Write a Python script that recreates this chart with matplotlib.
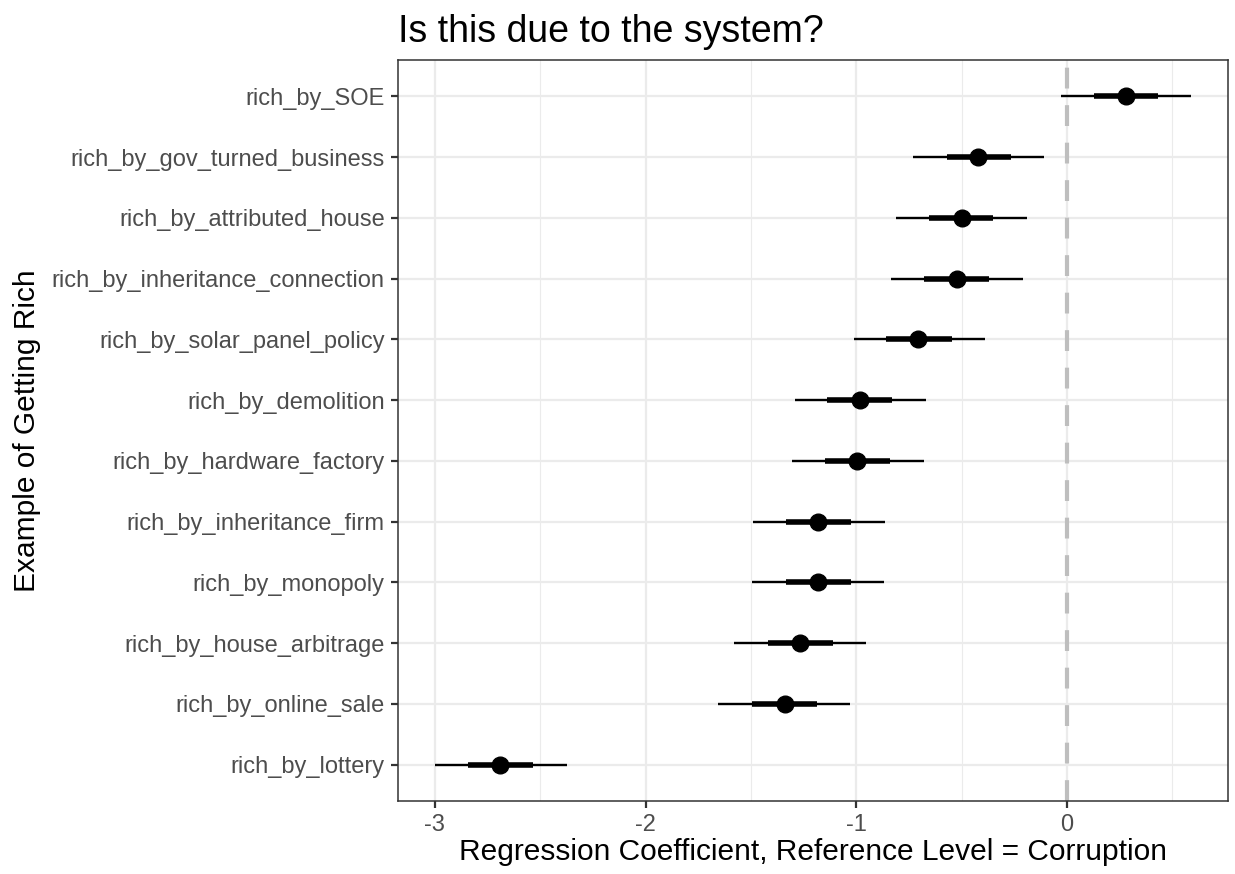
import matplotlib
matplotlib.use("Agg")
from matplotlib import pyplot as plt
from matplotlib.ticker import MultipleLocator
import numpy as np

plt.rcParams['font.family'] = ['Liberation Sans', 'DejaVu Sans']
plt.rcParams['axes.unicode_minus'] = False

# categories listed top to bottom as in the chart
labels = ['rich_by_SOE', 'rich_by_gov_turned_business', 'rich_by_attributed_house',
          'rich_by_inheritance_connection', 'rich_by_solar_panel_policy', 'rich_by_demolition',
          'rich_by_hardware_factory', 'rich_by_inheritance_firm', 'rich_by_monopoly',
          'rich_by_house_arbitrage', 'rich_by_online_sale', 'rich_by_lottery']
estimate = [0.28, -0.42, -0.50, -0.52, -0.705, -0.98, -0.995, -1.18, -1.18, -1.265, -1.34, -2.69]
outer_lo = [-0.03, -0.73, -0.81, -0.835, -1.01, -1.29, -1.305, -1.49, -1.495, -1.58, -1.655, -3.00]
outer_hi = [0.59, -0.11, -0.19, -0.21, -0.39, -0.67, -0.68, -0.865, -0.87, -0.955, -1.03, -2.375]
inner_lo = [0.13, -0.57, -0.655, -0.68, -0.86, -1.14, -1.15, -1.335, -1.335, -1.42, -1.495, -2.845]
inner_hi = [0.435, -0.265, -0.35, -0.37, -0.545, -0.83, -0.84, -1.025, -1.025, -1.11, -1.185, -2.535]

n = len(labels)
ypos = np.arange(n, 0, -1)

fig = plt.figure(figsize=(12.35, 8.74), dpi=100)
ax = fig.add_axes([0.3223, 0.0835, 0.6720, 0.8479])

# grid
grid_col = '#EBEBEB'
for v in [-3, -2, -1, 0]:
    ax.axvline(v, color=grid_col, lw=1.6, zorder=0)
for v in [-2.5, -1.5, -0.5, 0.5]:
    ax.axvline(v, color=grid_col, lw=0.8, zorder=0)
for y in ypos:
    ax.axhline(y, color=grid_col, lw=1.6, zorder=0)

ax.axvline(0, color='#BEBEBE', lw=3, ls=(0, (5, 4)), zorder=1)

ax.hlines(ypos, outer_lo, outer_hi, color='black', lw=1.7, zorder=2)
ax.hlines(ypos, inner_lo, inner_hi, color='black', lw=4, zorder=3)
ax.plot(estimate, ypos, 'o', color='black', ms=12, zorder=4)

ax.set_xlim(-3.175, 0.765)
ax.set_ylim(0.4, n + 0.6)
ax.xaxis.set_major_locator(MultipleLocator(1))
ax.set_yticks(ypos)
ax.set_yticklabels(labels)

for s in ax.spines.values():
    s.set_color('#333333')
    s.set_linewidth(1.1)
ax.tick_params(axis='both', which='major', length=5, width=1.6, color='#333333',
               labelcolor='#4D4D4D', labelsize=17, pad=4.5)

ax.set_xlabel('Regression Coefficient, Reference Level = Corruption', fontsize=21.5, color='black', labelpad=1)
ax.set_ylabel('Example of Getting Rich', fontsize=21.5, color='black', labelpad=8)
ax.set_title('Is this due to the system?', fontsize=27, loc='left', pad=13)

fig.savefig('out.png', dpi=100)
